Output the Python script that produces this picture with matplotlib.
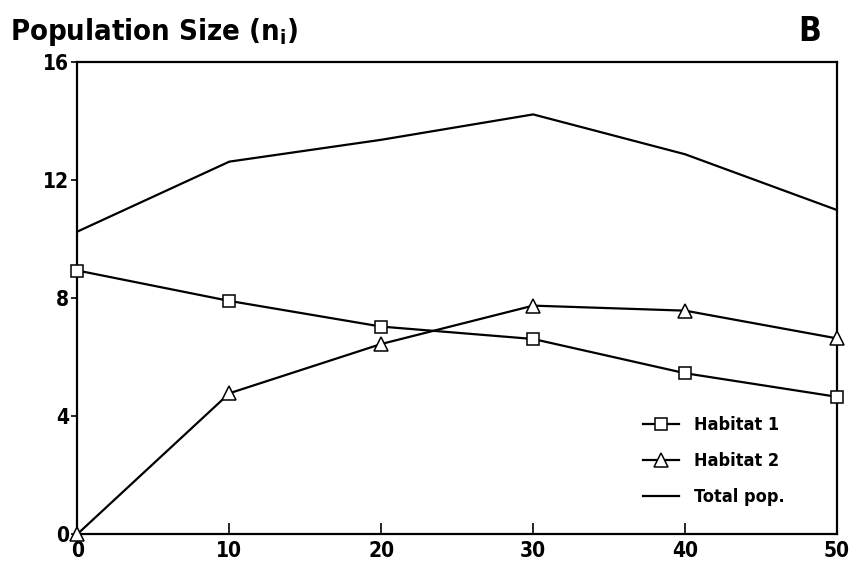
import matplotlib.pyplot as plt
from matplotlib import font_manager

#### data
x = [0, 10, 20, 30, 40, 50]
habitat1 = [8.93, 7.9, 7.03, 6.61, 5.45, 4.65]
habitat2 = [0.0, 4.77, 6.44, 7.74, 7.57, 6.63]
total = [10.25, 12.62, 13.36, 14.22, 12.87, 10.98]
yticks = [0, 4, 8, 12, 16]

####
names = {f.name for f in font_manager.fontManager.ttflist}
fam = 'Liberation Sans Narrow' if 'Liberation Sans Narrow' in names else 'DejaVu Sans'
plt.rcParams['font.family'] = [fam, 'DejaVu Sans']
plt.rcParams['font.weight'] = 'bold'
plt.rcParams['font.stretch'] = 'condensed'

fig = plt.figure(figsize=(8.51, 5.73), dpi=100)
ax = fig.add_axes([0.091, 0.068, 0.8925, 0.824])

ax.plot(x, habitat1, color='black', lw=1.6, marker='s', ms=9, mfc='white',
        mec='black', mew=1.1, clip_on=False, label='Habitat 1', zorder=3)
ax.plot(x, habitat2, color='black', lw=1.6, marker='^', ms=10, mfc='white',
        mec='black', mew=1.1, clip_on=False, label='Habitat 2', zorder=3)
ax.plot(x, total, color='black', lw=1.6, label='Total pop.')

ax.set_xlim(0, 50)
ax.set_ylim(0, 16)
ax.set_xticks(x)
ax.set_yticks(yticks)
ax.tick_params(axis='x', direction='in', length=8, width=1.2, labelsize=15, pad=5)
ax.tick_params(axis='y', direction='out', length=4, width=1.2, labelsize=15, pad=2)
for s in ax.spines.values():
    s.set_linewidth(1.6)

leg = ax.legend(loc='lower right', bbox_to_anchor=(0.952, 0.025), frameon=False,
                fontsize=13, handlelength=2.0, labelspacing=1.0)

fig.text(0.012, 0.945, 'Population Size (n$_\\mathregular{i}$)', fontsize=21,
         fontweight='bold', va='center', ha='left')
fig.text(0.938, 0.945, 'B', fontsize=24, fontweight='bold', va='center', ha='left')

fig.savefig('out.png', dpi=100)
